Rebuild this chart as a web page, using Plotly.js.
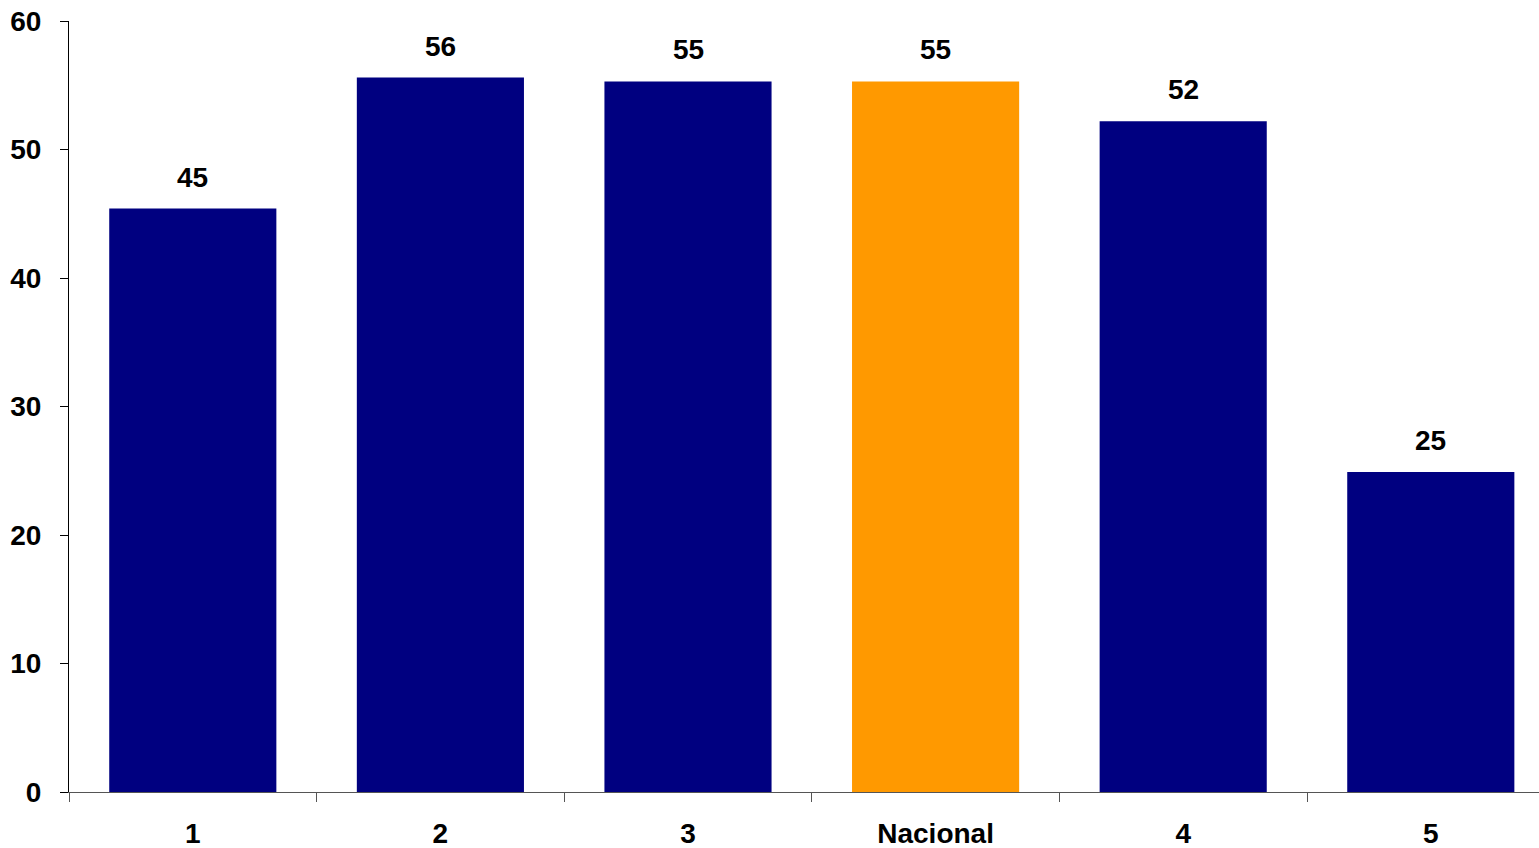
<!DOCTYPE html>
<html>
<head>
<meta charset="utf-8">
<script src="https://cdn.plot.ly/plotly-3.0.1.min.js"></script>
<style>
html,body{margin:0;padding:0;background:#fff;}
#chart{width:1539px;height:848px;}
</style>
</head>
<body>
<div id="chart"></div>
<script>
const categories = ["1", "2", "3", "Nacional", "4", "5"];
const values = [45.4, 55.6, 55.3, 55.3, 52.2, 24.9];
const valueLabels = ["45", "56", "55", "55", "52", "25"];
const barColors = ["#000080", "#000080", "#000080", "#FF9900", "#000080", "#000080"];
const yTicks = [0, 10, 20, 30, 40, 50, 60];

const font = {family: "Liberation Sans, Arial, sans-serif", size: 28, color: "#000"};

const trace = {
  type: "bar",
  x: categories,
  y: values,
  marker: {color: barColors, line: {width: 0}},
  hoverinfo: "none"
};

const annotations = categories.map((c, i) => ({
  x: i, y: values[i], xref: "x", yref: "y",
  text: "<b>" + valueLabels[i] + "</b>",
  showarrow: false, yanchor: "bottom", yshift: 14,
  font: font
}));

const layout = {
  width: 1539, height: 848,
  margin: {l: 69, r: 0, t: 21, b: 56, pad: 0},
  paper_bgcolor: "#fff", plot_bgcolor: "#fff",
  showlegend: false,
  bargap: 0.325,
  font: font,
  xaxis: {
    type: "category",
    range: [-0.5, 5.437],
    showgrid: false, zeroline: false,
    showline: true, linecolor: "#555", linewidth: 1,
    ticks: "outside", tickson: "boundaries", ticklen: 9, tickcolor: "#555", tickwidth: 1,
    ticklabelstandoff: 16,
    tickfont: {family: font.family, size: 28, color: "#000", weight: "bold"}
  },
  yaxis: {
    range: [0, 60],
    tickvals: yTicks,
    ticktext: yTicks.map(String),
    showgrid: false, zeroline: false,
    showline: true, linecolor: "#000", linewidth: 1,
    ticks: "outside", ticklen: 8, tickcolor: "#000", tickwidth: 1,
    ticklabelstandoff: 13,
    tickfont: {family: font.family, size: 28, color: "#000", weight: "bold"}
  },
  annotations: annotations
};

Plotly.newPlot("chart", [trace], layout, {displayModeBar: false, staticPlot: true});
</script>
</body>
</html>
